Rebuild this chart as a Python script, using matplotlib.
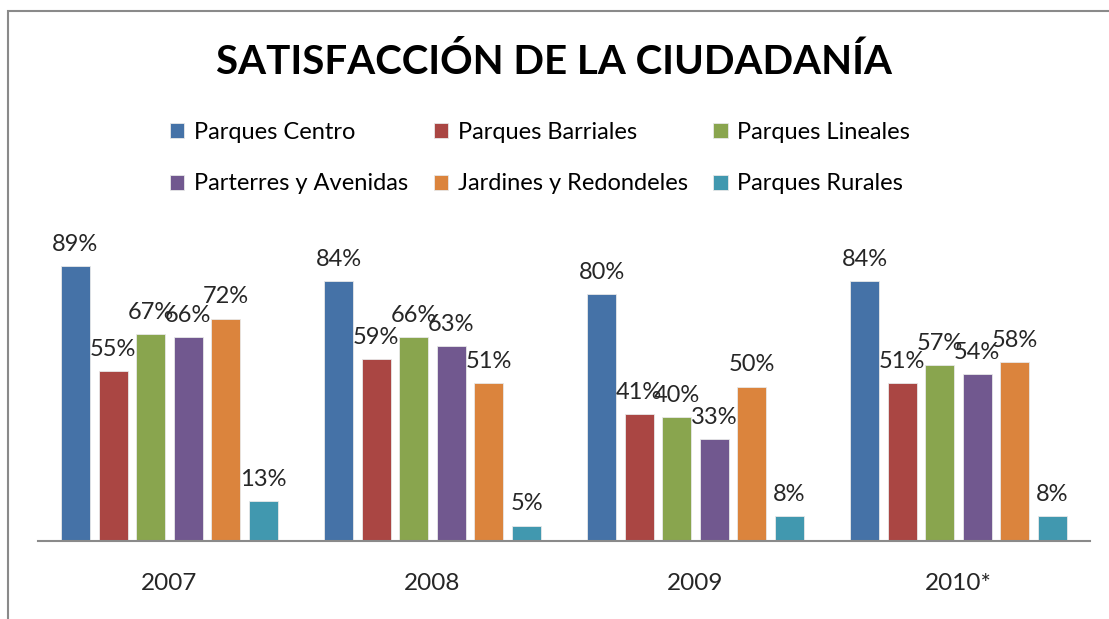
import numpy as np
import matplotlib
matplotlib.use("Agg")
import matplotlib.pyplot as plt
from matplotlib.patches import Rectangle

# Datos
anios = ['2007', '2008', '2009', '2010*']
series = ['Parques Centro', 'Parques Barriales', 'Parques Lineales',
          'Parterres y Avenidas', 'Jardines y Redondeles', 'Parques Rurales']
parques_centro = [89, 84, 80, 84]
parques_barriales = [55, 59, 41, 51]
parques_lineales = [67, 66, 40, 57]
parterres_avenidas = [66, 63, 33, 54]
jardines_redondeles = [72, 51, 50, 58]
parques_rurales = [13, 5, 8, 8]

valores = [parques_centro, parques_barriales, parques_lineales,
           parterres_avenidas, jardines_redondeles, parques_rurales]
colores = ['#4572A7', '#AA4643', '#89A54E', '#71588F', '#DB843D', '#4198AF']

plt.rcParams['font.family'] = ['Lato', 'DejaVu Sans']

W, H = 1109, 619
fig = plt.figure(figsize=(W / 100, H / 100), dpi=100)

# marco gris de la figura
fig.patches.append(Rectangle((8 / W, -0.1), 1.2, (H - 11) / H + 0.1,
                             transform=fig.transFigure, fill=False,
                             edgecolor='#8a8a8a', linewidth=1.5))

# ejes en pixeles
x0, x1 = 38, 1090
y_base, y_top = 541, 232
ax = fig.add_axes([x0 / W, (H - y_base) / H, (x1 - x0) / W, (y_base - y_top) / H])

x = np.arange(len(anios))
paso = 37.6 / 263
ancho = 29 / 263
handles = []
for i, (nombre, vals, color) in enumerate(zip(series, valores, colores)):
    pos = x + (i - 2.5) * paso
    barras = ax.bar(pos, vals, width=ancho, color=color, edgecolor='#e8e8e8',
                    linewidth=0.6, label=nombre)
    handles.append(barras)
    for b, v in zip(barras, vals):
        ax.annotate(f'{v}%', (b.get_x() + b.get_width() / 2, v),
                    xytext=(0, 8), textcoords='offset points',
                    ha='center', va='bottom', fontsize=17, color='#262626')

ax.set_xlim(-0.5, len(anios) - 0.5)
ax.set_ylim(0, 100)
ax.set_xticks(x)
ax.set_xticklabels(anios, fontsize=17.5, color='#262626')
ax.tick_params(axis='x', length=0, pad=23)
ax.set_yticks([])
for lado in ['top', 'right', 'left']:
    ax.spines[lado].set_visible(False)
ax.spines['bottom'].set_color('#8a8a8a')
ax.spines['bottom'].set_linewidth(1.5)
ax.patch.set_alpha(0)

fig.text(0.5, (H - 62) / H, 'SATISFACCIÓN DE LA CIUDADANÍA', ha='center',
         va='center', fontsize=29, fontweight='bold', color='black')

# la leyenda se llena por columnas: reordenar para que las filas queden como en el original
orden = [0, 3, 1, 4, 2, 5]
fig.legend([handles[k] for k in orden], [series[k] for k in orden],
           loc='center', bbox_to_anchor=(0.487, (H - 158) / H), ncol=3,
           frameon=False, fontsize=17, handlelength=0.6, handleheight=0.6,
           handletextpad=0.4, columnspacing=1.1, labelspacing=1.3)

fig.savefig('out.png', dpi=100)
